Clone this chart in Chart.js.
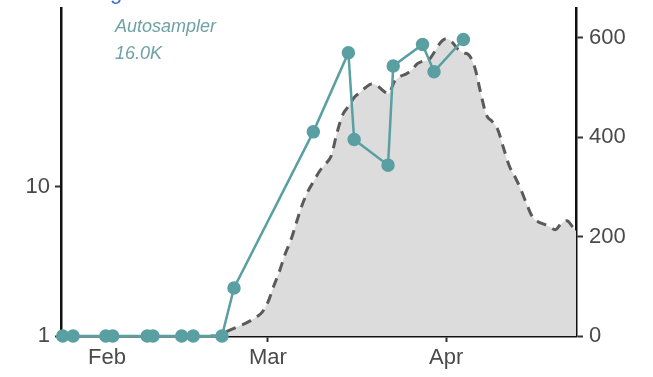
<!DOCTYPE html>
<html>
<head>
<meta charset="utf-8">
<script src="https://cdn.jsdelivr.net/npm/chart.js@4/dist/chart.umd.min.js"></script>
<style>
	html, body { margin: 0; padding: 0; background: #fff; }
	canvas { display: block; }
</style>
</head>
<body>
<canvas id="myChart" width="653" height="377"></canvas>
<script>
// days counted from Feb 1
const monthTicks = [0, 28, 59]
const monthLabels = ['Feb', 'Mar', 'Apr']

// autosampler counts (left, log axis)
const sampleDays = [-7.7, -5.9, -0.2, 1.0, 7.0, 8.0, 13.0, 15.0, 20.0, 22.1, 35.9, 42.0, 43.0, 48.9, 49.8, 54.9, 56.9, 62.0]
const sampleCounts = [1, 1, 1, 1, 1, 1, 1, 1, 1, 2.1, 23.4, 79.4, 20.8, 14.0, 64.8, 90.2, 59.3, 97.4]

// daily curve (right axis)
const curveDays = [18, 19, 20, 21, 22, 23, 24, 25, 26, 27, 28, 29, 30, 31, 32, 33, 34, 35, 36, 37, 38, 39, 40, 41, 42, 43, 44, 45, 46, 47, 48, 49, 50, 51, 52, 53, 54, 55, 56, 57, 58, 59, 60, 61, 62, 63, 64, 65, 66, 67, 68, 69, 70, 71, 72, 73, 74, 75, 76, 77, 78, 79, 80, 81, 82]
const curveValues = [0, 0, 4, 10, 15, 20, 25, 31, 38, 48, 68, 100, 130, 165, 193, 230, 265, 292, 312, 332, 346, 362, 408, 445, 462, 480, 490, 500, 507, 504, 494, 488, 512, 522, 527, 535, 548, 553, 556, 572, 590, 598, 592, 578, 570, 565, 540, 490, 445, 432, 415, 378, 342, 320, 295, 266, 240, 230, 225, 220, 214, 226, 232, 220, 205]

const leftTicks = [1, 10]
const rightTicks = [0, 200, 400, 600]

const labelFont = { family: "'Liberation Sans', Arial, sans-serif", size: 22 }

const notes = {
	id: 'notes',
	afterDraw(chart) {
		const ctx = chart.ctx
		ctx.save()
		ctx.fillStyle = '#3d6fd6'
		ctx.font = "22px 'Liberation Sans', Arial, sans-serif"
		ctx.textBaseline = 'alphabetic'
		ctx.fillText('g', 110, -1)
		ctx.fillStyle = '#6ea2a5'
		ctx.font = "italic 18px 'Liberation Sans', Arial, sans-serif"
		ctx.fillText('Autosampler', 115, 32)
		ctx.fillText('16.0K', 115, 59)
		ctx.restore()
	}
}

// no extra room for half labels at the ends
const noPad = (scale) => {
	scale.paddingTop = 0
	scale.paddingBottom = 0
	scale.paddingLeft = 0
	scale.paddingRight = 0
}

let cfg = {
	type: 'line',
	data: {
		datasets: [{
			label: 'Autosampler',
			data: sampleDays.map((d, i) => ({ x: d, y: sampleCounts[i] })),
			yAxisID: 'y',
			borderColor: '#5a9fa1',
			backgroundColor: '#5a9fa1',
			borderWidth: 2.5,
			pointRadius: 5.5,
			pointHoverRadius: 5.5,
			tension: 0,
			clip: false,
			order: 1
		},
		{
			label: 'Curve',
			data: curveDays.map((d, i) => ({ x: d, y: curveValues[i] })),
			yAxisID: 'y2',
			borderColor: '#5a5a5a',
			backgroundColor: '#dcdcdc',
			borderWidth: 3,
			borderDash: [10, 7],
			fill: 'origin',
			pointRadius: 0,
			cubicInterpolationMode: 'monotone',
			order: 2
		}]
	},
	options: {
		responsive: false,
		animation: false,
		layout: { padding: { top: 6, left: 0, right: 0, bottom: 0 } },
		plugins: {
			legend: { display: false },
			tooltip: { enabled: false }
		},
		scales: {
			x: {
				type: 'linear',
				position: 'bottom',
				min: -8,
				max: 81.6,
				afterBuildTicks: (scale) => { scale.ticks = monthTicks.map(v => ({ value: v })) },
				afterFit: (scale) => { scale.height = 41; noPad(scale) },
				ticks: {
					callback: (v) => monthLabels[monthTicks.indexOf(v)],
					font: labelFont,
					color: '#4a4a4a',
					padding: 3,
					maxRotation: 0
				},
				grid: { drawOnChartArea: false, drawTicks: true, tickLength: 6, color: '#333', tickWidth: 2 },
				border: { display: true, color: '#111', width: 2.5 }
			},
			y: {
				type: 'logarithmic',
				position: 'left',
				min: 1,
				max: 158.5,
				afterBuildTicks: (scale) => { scale.ticks = leftTicks.map(v => ({ value: v })) },
				afterFit: (scale) => { scale.width = 61; noPad(scale) },
				ticks: {
					callback: (v) => String(v),
					font: labelFont,
					color: '#4a4a4a',
					padding: 5
				},
				grid: { drawOnChartArea: false, drawTicks: true, tickLength: 6, color: '#333', tickWidth: 2 },
				border: { display: true, color: '#111', width: 2.5 }
			},
			y2: {
				type: 'linear',
				position: 'right',
				min: 0,
				max: 660,
				afterBuildTicks: (scale) => { scale.ticks = rightTicks.map(v => ({ value: v })) },
				afterFit: (scale) => { scale.width = 77; noPad(scale) },
				ticks: {
					callback: (v) => String(v),
					font: labelFont,
					color: '#4a4a4a',
					padding: 6
				},
				grid: { drawOnChartArea: false, drawTicks: true, tickLength: 7, color: '#333', tickWidth: 2 },
				border: { display: true, color: '#111', width: 2.5 }
			}
		}
	},
	plugins: [notes]
}

new Chart('myChart', cfg)
</script>
</body>
</html>
